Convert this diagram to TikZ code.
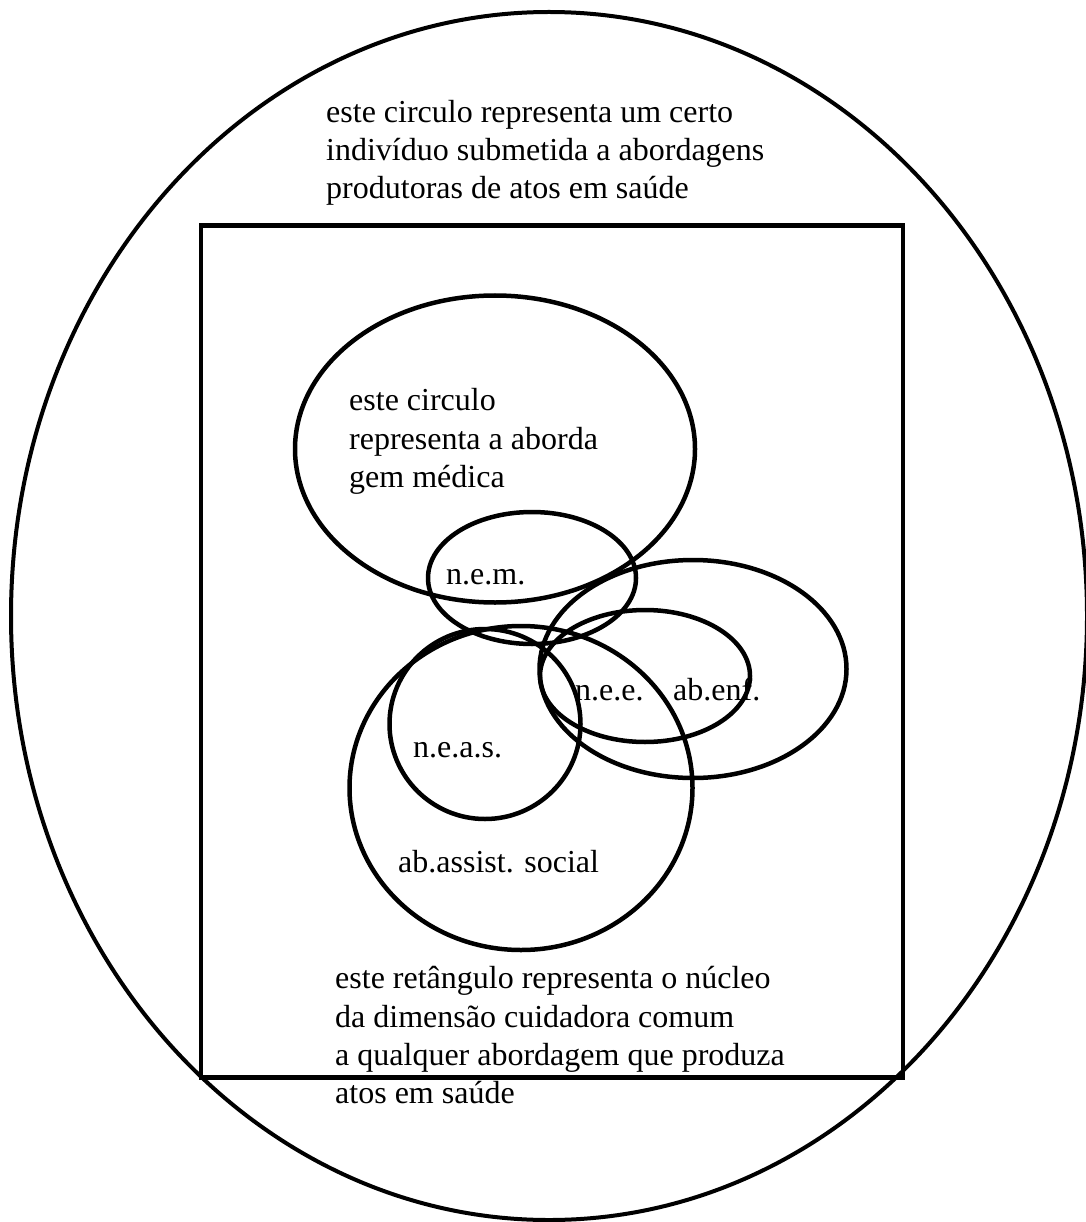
\documentclass[tikz,border=0pt]{standalone}
\usepackage{fontspec}
\setmainfont{Liberation Serif}
\usetikzlibrary{shapes.geometric}
\begin{document}
\begin{tikzpicture}[x=1pt,y=-1pt,
  oval/.style={ellipse,draw,line width=4.5pt,inner sep=0pt},
  txt/.style={anchor=base west,inner sep=0pt,font=\rmfamily\fontsize{32}{38.5}\selectfont}]
\useasboundingbox (0,0) rectangle (1085,1222);
% outer individual ellipse
\node[ellipse,draw,line width=4pt,inner sep=0pt,minimum width=1076pt,minimum height=1208pt] (indiv) at (549,616) {};
% rectangle core
\node[draw,line width=4pt,inner sep=0pt,outer sep=0pt,minimum width=702pt,minimum height=852pt] (nucleo) at (552,651.5) {};
\draw[line width=5pt] ([xshift=-2pt]nucleo.north west) -- ([xshift=2pt]nucleo.north east);
\draw[line width=5pt] ([xshift=-2pt]nucleo.south west) -- ([xshift=2pt]nucleo.south east);
% approach ellipses
\node[oval,minimum width=400pt,minimum height=307pt] (medica) at (495,449) {};
\node[oval,minimum width=208pt,minimum height=132pt] (nem) at (532,578) {};
\node[oval,minimum width=307pt,minimum height=218pt] (enf) at (693,669) {};
\node[oval,minimum width=210pt,minimum height=132pt] (nee) at (645,676) {};
\node[oval,minimum width=343pt,minimum height=324pt] (social) at (521,788) {};
\node[oval,minimum width=191pt,minimum height=190pt] (neas) at (485,724) {};
% texts
\node[txt] (t1) at (326,123) {este circulo representa um certo};
\node[txt] (t2) at (326,161) {indivíduo submetida a abordagens};
\node[txt] (t3) at (326,199) {produtoras de atos em saúde};
\node[txt] (m1) at (349,410) {este circulo};
\node[txt] (m2) at (349,449) {representa a aborda};
\node[txt] (m3) at (349,487) {gem médica};
\node[txt] (lnem) at (446,584) {n.e.m.};
\node[txt] (lnee) at (575,700) {n.e.e.};
\node[txt] (lenf) at (673,700) {ab.enf.};
\node[txt] (lneas) at (413,757) {n.e.a.s.};
\node[txt] (lsoc) at (398,872) {ab.assist. social};
\node[txt] (b1) at (335,988) {este retângulo representa o núcleo};
\node[txt] (b2) at (335,1027) {da dimensão cuidadora comum};
\node[txt] (b3) at (335,1065) {a qualquer abordagem que produza};
\node[txt] (b4) at (335,1103) {atos em saúde};
\end{tikzpicture}
\end{document}
